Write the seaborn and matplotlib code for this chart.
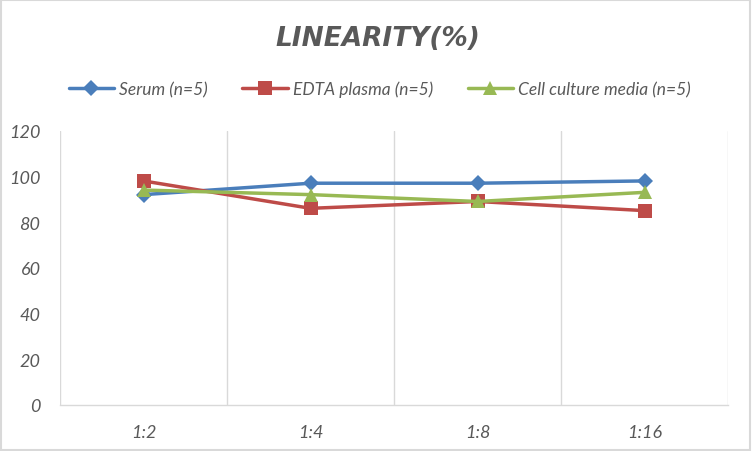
import matplotlib
matplotlib.use("Agg")
import matplotlib.pyplot as plt
import seaborn as sns
import pandas as pd
import numpy as np

categories = ["1:2", "1:4", "1:8", "1:16"]
serum = [92, 97, 97, 98]
edta = [98, 86, 89, 85]
cell = [94, 92, 89, 93]
series_names = ["Serum (n=5)", "EDTA plasma (n=5)", "Cell culture media (n=5)"]

rows = []
for name, vals in zip(series_names, [serum, edta, cell]):
    for i, (c, v) in enumerate(zip(categories, vals)):
        rows.append({"pos": i, "cat": c, "value": v, "series": name})
df = pd.DataFrame(rows)

sns.set_theme(style="white")
plt.rcParams['font.family'] = ['Lato', 'DejaVu Sans']

fig = plt.figure(figsize=(7.52, 4.52), dpi=100)
ax = fig.add_axes([60/752, 1-405.7/452, 668/752, (405.7-131.7)/452])

colors = {series_names[0]: "#4a7ebb", series_names[1]: "#be4b48", series_names[2]: "#98b954"}
markers = {series_names[0]: "D", series_names[1]: "s", series_names[2]: "^"}
sizes = {series_names[0]: 8, series_names[1]: 10, series_names[2]: 10}

for name in series_names:
    sub = df[df["series"] == name]
    sns.lineplot(data=sub, x="pos", y="value", ax=ax, color=colors[name],
                 marker=markers[name], markersize=sizes[name], markeredgewidth=0,
                 linewidth=2.5, label=name, legend=False)

ax.set_xlim(-0.5, len(categories) - 0.5)
ax.set_ylim(0, 120)
ax.set_yticks(np.arange(0, 121, 20))
ax.set_xticks(range(len(categories)))
ax.set_xticklabels(categories)
for b in np.arange(-0.5, len(categories), 1.0):
    ax.axvline(b, color="#d9d9d9", linewidth=1, zorder=0)
for s in ["top", "right", "left"]:
    ax.spines[s].set_visible(False)
ax.spines["bottom"].set_color("#d9d9d9")
ax.spines["bottom"].set_linewidth(1)
ax.tick_params(axis="x", length=0, labelsize=13, colors="#595959", pad=14)
ax.tick_params(axis="y", length=0, labelsize=13, colors="#595959", pad=14)
for t in ax.get_xticklabels() + ax.get_yticklabels():
    t.set_fontstyle("italic")
ax.set_xlabel("")
ax.set_ylabel("")

fig.text(0.502, 1-39/452, "LINEARITY(%)", ha="center", va="center", fontsize=19,
         fontweight="bold", fontstyle="italic", color="#595959", family=["DejaVu Sans"])

handles, labels = ax.get_legend_handles_labels()
leg = fig.legend(handles, labels, loc="center", bbox_to_anchor=(0.505, 1-90/452), ncol=3,
                 frameon=False, fontsize=12.5, handlelength=2.6, columnspacing=2.0,
                 handletextpad=0.3)
for t in leg.get_texts():
    t.set_color("#595959")
    t.set_fontstyle("italic")

border = plt.Rectangle((0.001, 0.002), 0.997, 0.996, transform=fig.transFigure,
                       fill=False, edgecolor="#d9d9d9", linewidth=1.5)
fig.patches.append(border)

fig.savefig("out.png", dpi=100)
